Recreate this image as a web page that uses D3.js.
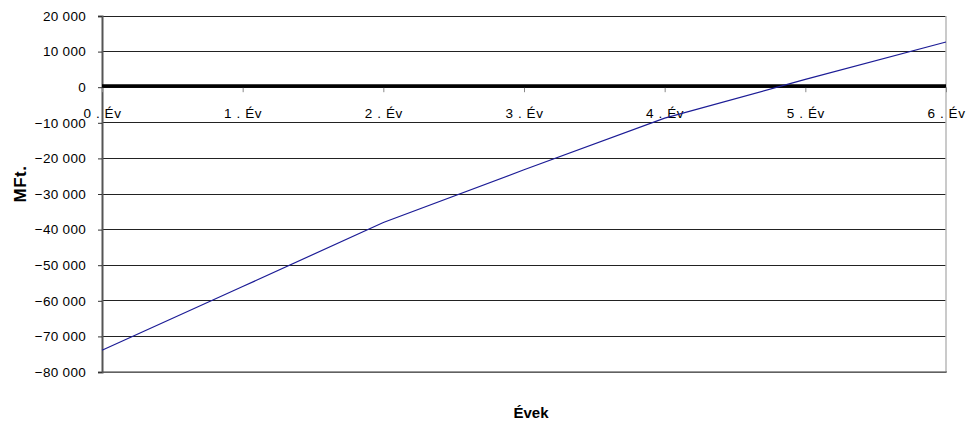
<!DOCTYPE html>
<html>
<head>
<meta charset="utf-8">
<script src="https://cdn.jsdelivr.net/npm/d3@7/dist/d3.min.js"></script>
<style>
  html, body { margin: 0; padding: 0; background: #fff; }
  svg text { font-family: "Liberation Sans", Arial, sans-serif; fill: #000; }
</style>
</head>
<body>
<svg id="chart" width="971" height="425"></svg>
<script>
// Cumulative cash position per year (MFt.)
const years = ["0 . Év", "1 . Év", "2 . Év", "3 . Év", "4 . Év", "5 . Év", "6 . Év"];
const cumulative = [-73900, -56000, -38000, -23200, -8700, 2200, 12700];
const yTicks = [20000, 10000, 0, -10000, -20000, -30000, -40000, -50000, -60000, -70000, -80000];
const yTitle = "MFt.";
const xTitle = "Évek";

const svg = d3.select("#chart");
const plot = { left: 102, right: 946, top: 16, bottom: 372 };

const x = d3.scalePoint().domain(years).range([plot.left, plot.right]);
const y = d3.scaleLinear().domain([-80000, 20000]).range([plot.bottom, plot.top]);

// thousands separated by a space
const fmt = v => d3.format(",")(v).replace(/,/g, " ");

// horizontal gridlines
svg.append("g")
  .selectAll("line")
  .data(yTicks)
  .join("line")
  .attr("x1", plot.left).attr("x2", plot.right)
  .attr("y1", d => y(d)).attr("y2", d => y(d))
  .attr("stroke", "#222").attr("stroke-width", 1)
  .attr("shape-rendering", "crispEdges");

// plot frame: right and bottom edges
svg.append("line")
  .attr("x1", plot.right).attr("x2", plot.right)
  .attr("y1", plot.top).attr("y2", plot.bottom)
  .attr("stroke", "#b8b8b8").attr("stroke-width", 1.5);
svg.append("line")
  .attr("x1", plot.left).attr("x2", plot.right + 1)
  .attr("y1", plot.bottom).attr("y2", plot.bottom)
  .attr("stroke", "#777").attr("stroke-width", 1.5);

// value axis
const yAxis = svg.append("g")
  .attr("transform", `translate(${plot.left},0)`)
  .call(d3.axisLeft(y).tickValues(yTicks).tickSize(4).tickPadding(12).tickFormat(fmt));
yAxis.select(".domain").attr("stroke", "#555").attr("stroke-width", 2);
yAxis.selectAll(".tick line").attr("stroke", "#333");
yAxis.selectAll(".tick text")
  .attr("font-size", 13.5)
  .attr("letter-spacing", "0.3px")
  .attr("font-family", "Liberation Sans, Arial, sans-serif")
  .attr("fill", "#000");

// category axis crossing at zero
const xAxis = svg.append("g")
  .attr("transform", `translate(0,${y(0)})`)
  .call(d3.axisBottom(x).tickSize(5).tickPadding(16));
xAxis.select(".domain").remove();
xAxis.selectAll(".tick line").attr("stroke", "#888");
xAxis.selectAll(".tick text")
  .attr("font-size", 13.5)
  .attr("letter-spacing", "0.6px")
  .attr("font-family", "Liberation Sans, Arial, sans-serif")
  .attr("fill", "#000");

// heavy zero line
svg.append("line")
  .attr("x1", plot.left).attr("x2", plot.right)
  .attr("y1", y(0) - 1.2).attr("y2", y(0) - 1.2)
  .attr("stroke", "#000").attr("stroke-width", 3.6);

// cumulative series
const line = d3.line()
  .x((d, i) => x(years[i]))
  .y(d => y(d));
svg.append("path")
  .datum(cumulative)
  .attr("d", line)
  .attr("fill", "none")
  .attr("stroke", "#1c1c96")
  .attr("stroke-width", 1.2);

// axis titles
svg.append("text")
  .attr("transform", `translate(26,184) rotate(-90)`)
  .attr("text-anchor", "middle")
  .attr("font-size", 17)
  .attr("font-weight", "bold")
  .attr("letter-spacing", "0.5px")
  .text(yTitle);

svg.append("text")
  .attr("x", 531).attr("y", 418)
  .attr("text-anchor", "middle")
  .attr("font-size", 15)
  .attr("font-weight", "bold")
  .text(xTitle);
</script>
</body>
</html>
